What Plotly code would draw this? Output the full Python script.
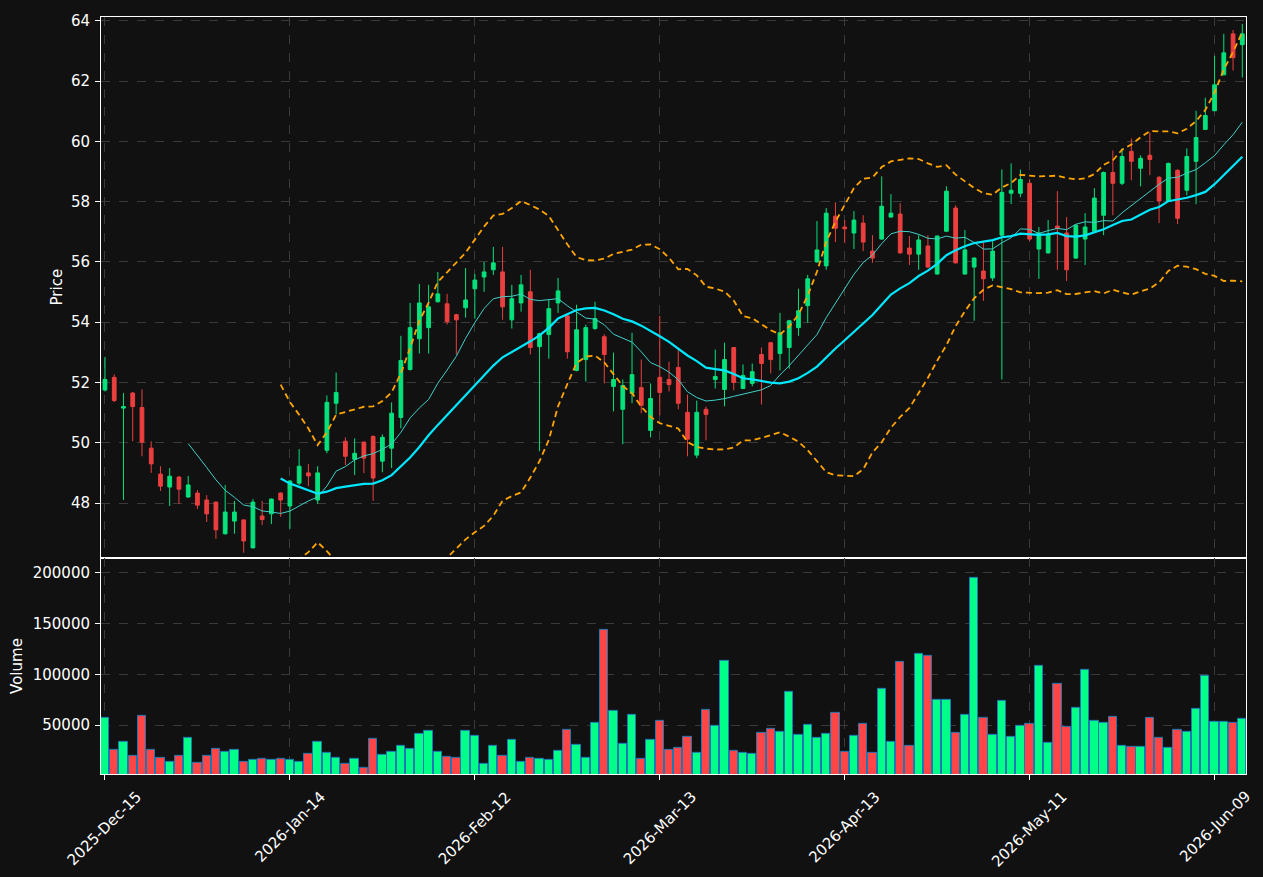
import pandas as pd
import plotly.graph_objects as go

# ---------------- data ----------------
holidays = ["2025-12-25", "2026-01-01", "2026-01-19", "2026-02-16", "2026-04-03", "2026-05-25"]
dates = [d for d in pd.bdate_range("2025-12-15", "2026-06-12") if d.strftime("%Y-%m-%d") not in holidays]

opens = [51.75, 52.17, 51.15, 51.65, 51.17, 49.82, 48.96, 48.53, 48.86, 48.20,
         48.33, 48.10, 48.03, 46.98, 47.40, 47.44, 46.51, 47.57, 47.64, 48.33,
         47.90, 48.66, 49.00, 48.10, 49.75, 51.31, 50.05, 49.45, 50.02, 50.21,
         49.39, 49.82, 50.84, 52.43, 53.45, 53.82, 54.68, 54.61, 54.25, 54.48,
         55.11, 55.50, 55.74, 55.67, 54.08, 54.64, 55.01, 53.19, 53.59, 54.64,
         54.21, 52.40, 52.76, 53.79, 53.52, 51.87, 51.11, 51.64, 51.83, 50.41,
         52.17, 52.10, 52.50, 51.01, 49.59, 51.11, 52.10, 51.77, 53.16, 51.80,
         51.97, 52.93, 53.32, 52.96, 53.16, 53.82, 54.55, 56.00, 55.87, 57.52,
         57.16, 56.96, 57.29, 56.36, 56.76, 57.49, 57.59, 56.46, 56.26, 56.53,
         55.60, 57.02, 57.79, 55.60, 55.83, 55.70, 55.47, 56.89, 58.28, 58.28,
         58.61, 56.43, 56.30, 57.19, 56.96, 56.13, 56.76, 57.02, 57.55, 58.97,
         58.61, 59.67, 59.11, 59.54, 58.81, 58.02, 59.04, 58.38, 59.34, 60.40,
         61.02, 62.21, 63.57, 63.21]
highs = [52.85, 52.27, 51.65, 51.68, 51.77, 50.05, 49.22, 49.16, 48.90, 48.90,
         48.43, 48.26, 48.05, 48.60, 48.07, 47.45, 48.13, 48.07, 48.15, 48.35,
         48.76, 49.79, 49.29, 49.22, 51.57, 52.33, 50.18, 50.15, 50.05, 50.25,
         50.28, 51.34, 53.55, 54.64, 55.27, 55.24, 55.67, 54.94, 54.28, 55.80,
         55.60, 56.00, 56.50, 56.50, 55.24, 55.57, 55.74, 53.65, 54.74, 55.47,
         54.24, 54.58, 53.92, 54.68, 53.60, 52.99, 52.10, 53.65, 52.76, 51.97,
         54.21, 52.69, 53.09, 51.60, 51.40, 51.20, 53.09, 53.32, 53.18, 52.60,
         52.63, 53.16, 53.35, 54.31, 54.08, 55.11, 55.57, 57.36, 57.79, 57.98,
         57.39, 57.69, 57.55, 56.89, 58.84, 58.25, 57.95, 56.86, 56.89, 56.89,
         56.88, 58.51, 57.88, 57.06, 56.15, 56.66, 56.69, 59.07, 59.27, 59.07,
         58.74, 57.16, 57.39, 58.35, 57.49, 57.25, 57.62, 58.45, 59.00, 59.70,
         59.77, 60.10, 59.54, 60.30, 58.85, 59.30, 59.08, 59.77, 61.02, 61.45,
         62.84, 63.57, 63.70, 63.90]
lows = [51.70, 51.35, 48.10, 50.05, 49.55, 49.00, 48.40, 47.90, 47.97, 48.17,
        47.80, 47.37, 46.81, 46.95, 46.98, 46.35, 46.50, 47.27, 47.30, 47.54,
        47.14, 48.60, 48.56, 47.97, 49.65, 50.94, 49.26, 48.93, 48.99, 48.07,
        49.02, 49.16, 50.48, 52.40, 52.96, 52.96, 54.65, 53.92, 52.93, 54.15,
        54.12, 55.01, 55.57, 54.08, 53.79, 54.35, 52.93, 49.72, 52.79, 54.31,
        52.79, 52.37, 52.03, 53.75, 51.97, 51.04, 49.95, 51.31, 50.98, 50.18,
        50.91, 51.70, 51.11, 49.55, 49.49, 50.08, 51.80, 51.21, 51.74, 51.78,
        51.87, 51.27, 52.30, 52.40, 52.46, 53.55, 53.98, 55.98, 55.74, 56.66,
        56.63, 56.43, 56.36, 55.97, 56.74, 57.47, 56.28, 55.90, 55.74, 55.80,
        55.58, 56.99, 55.95, 55.58, 54.05, 54.71, 55.37, 52.10, 57.92, 58.15,
        56.69, 55.44, 56.28, 55.74, 55.37, 56.10, 55.90, 57.00, 56.89, 57.55,
        58.55, 58.71, 58.51, 58.88, 57.29, 58.00, 57.26, 58.21, 57.92, 60.38,
        61.00, 62.20, 62.35, 62.12]
closes = [52.10, 51.40, 51.20, 51.20, 50.02, 49.30, 48.56, 48.89, 48.46, 48.60,
          47.93, 47.64, 47.11, 47.70, 47.70, 46.74, 48.03, 47.45, 48.13, 48.10,
          48.73, 49.22, 48.90, 49.00, 51.34, 51.67, 49.55, 49.65, 49.49, 48.83,
          50.18, 50.98, 52.73, 53.82, 54.64, 54.51, 54.94, 54.02, 54.08, 54.74,
          55.40, 55.67, 55.97, 54.51, 54.78, 55.24, 53.16, 53.62, 54.45, 55.04,
          53.02, 53.75, 53.82, 54.12, 52.93, 52.10, 51.90, 52.26, 51.24, 51.47,
          51.67, 51.93, 51.31, 50.12, 51.01, 50.94, 52.20, 52.76, 52.00, 52.23,
          52.36, 52.63, 52.76, 53.65, 54.05, 54.38, 55.44, 56.40, 57.62, 57.12,
          57.10, 57.39, 56.66, 56.13, 57.85, 57.62, 56.30, 56.26, 56.73, 55.83,
          56.86, 58.35, 55.97, 56.40, 56.13, 55.44, 56.36, 58.31, 58.38, 58.74,
          56.76, 56.96, 56.93, 57.12, 55.74, 57.22, 57.16, 58.12, 58.97, 58.61,
          59.50, 59.34, 59.44, 59.40, 58.02, 59.27, 57.45, 59.50, 60.13, 60.86,
          61.88, 62.94, 62.78, 63.57]
volumes = [56900, 25800, 33300, 19600, 58800, 25500, 17700, 14400, 19600, 37300,
           12800, 19600, 26500, 23500, 25500, 14400, 15700, 16700, 15700, 16700,
           15700, 14400, 21600, 33300, 22600, 17700, 11800, 16700, 7800, 36300,
           20600, 23500, 29400, 26500, 41200, 44100, 23500, 18600, 17700, 44100,
           39200, 11800, 29400, 19600, 35300, 14400, 17700, 16700, 15700, 24500,
           45100, 30400, 17700, 52000, 144100, 63700, 31400, 59800, 16700, 35300,
           53900, 25500, 27500, 38200, 22600, 64700, 49000, 113700, 24500, 22600,
           21600, 42200, 46100, 43100, 82400, 40200, 50000, 37300, 41200, 61800,
           23500, 39200, 51000, 22600, 85300, 33300, 112700, 29400, 120600, 118600,
           74500, 74500, 42200, 59800, 195100, 56900, 40200, 73500, 38200, 49000,
           51000, 108800, 32400, 90200, 48000, 66700, 104900, 53900, 52000, 57800,
           29400, 28400, 28400, 56900, 37300, 27500, 45100, 43100, 65700, 99000,
           52900, 52900, 52000, 55900]

tick_idx = list(range(0, len(dates), 20))
tick_labels = [dates[i].strftime("%Y-%b-%d") for i in tick_idx]

# ---------------- indicators ----------------
idx = list(range(len(closes)))
cs = pd.Series(closes)
ma10 = cs.rolling(10).mean()
ma20 = cs.rolling(20).mean()
sd20 = cs.rolling(20).std()
bb_up = ma20 + 2 * sd20
bb_lo = ma20 - 2 * sd20

# ---------------- styling ----------------
BG = "#111111"
UP_C = "#05e27c"
DN_C = "#eb3f3f"
UP_V = "#00ff88"
DN_V = "#ff4545"
GRID = "#3a3a3a"
FONT = "DejaVu Sans"

vol_colors = [UP_V if c >= o else DN_V for o, c in zip(opens, closes)]

fig = go.Figure()
fig.add_trace(go.Candlestick(
    x=idx, open=opens, high=highs, low=lows, close=closes,
    increasing=dict(line=dict(color=UP_C, width=1), fillcolor=UP_C),
    decreasing=dict(line=dict(color=DN_C, width=1), fillcolor=DN_C),
    whiskerwidth=0, xaxis="x", yaxis="y", showlegend=False))
fig.add_trace(go.Scatter(x=idx, y=bb_up, mode="lines", xaxis="x", yaxis="y",
                         line=dict(color="#ffa500", width=1.8, dash="6px,4px"), showlegend=False))
fig.add_trace(go.Scatter(x=idx, y=bb_lo, mode="lines", xaxis="x", yaxis="y",
                         line=dict(color="#ffa500", width=1.8, dash="6px,4px"), showlegend=False))
fig.add_trace(go.Scatter(x=idx, y=ma10, mode="lines", xaxis="x", yaxis="y",
                         line=dict(color="#40d0c8", width=1), showlegend=False))
fig.add_trace(go.Scatter(x=idx, y=ma20, mode="lines", xaxis="x", yaxis="y",
                         line=dict(color="#00e8ff", width=2.2), showlegend=False))
fig.add_trace(go.Bar(x=idx, y=volumes, xaxis="x2", yaxis="y2", width=0.9,
                     marker=dict(color=vol_colors, line=dict(color="#1f77b4", width=1)),
                     showlegend=False))

split = (774 - 557) / 760.0
xr = [-0.43, 123.4]
axis_common = dict(showline=True, mirror=True, linecolor="white", linewidth=1,
                   showgrid=True, gridcolor=GRID, griddash="dash", gridwidth=1,
                   zeroline=False, tickfont=dict(color="white", size=15, family=FONT))

fig.update_layout(
    width=1263, height=877,
    margin=dict(l=101, r=17, t=14, b=103),
    paper_bgcolor=BG, plot_bgcolor=BG,
    font=dict(family=FONT, color="white", size=15),
    boxgap=0.42,
    bargap=0,
    xaxis=dict(domain=[0, 1], anchor="y", range=xr, tickvals=tick_idx, showticklabels=False,
               ticks="", rangeslider=dict(visible=False), **axis_common),
    yaxis=dict(domain=[split, 1], anchor="x", range=[46.18, 64.13],
               tickvals=[48, 50, 52, 54, 56, 58, 60, 62, 64], ticklabelstandoff=2,
               ticks="outside", ticklen=5, tickcolor="white", **axis_common),
    xaxis2=dict(domain=[0, 1], anchor="y2", range=xr, tickvals=tick_idx, showticklabels=False,
                ticks="outside", ticklen=5, tickcolor="white", matches="x", **axis_common),
    yaxis2=dict(domain=[0, split], anchor="x2", range=[1960, 214700],
                tickvals=[50000, 100000, 150000, 200000], tickformat="d", ticklabelstandoff=2,
                ticks="outside", ticklen=5, tickcolor="white", **axis_common),
)

annotations = [
    dict(text="Price", x=0, xref="paper", y=(split + 1) / 2, yref="paper", xshift=-44,
         textangle=-90, showarrow=False, xanchor="center", yanchor="middle",
         font=dict(size=15, color="white", family=FONT)),
    dict(text="Volume", x=0, xref="paper", y=split / 2, yref="paper", xshift=-84,
         textangle=-90, showarrow=False, xanchor="center", yanchor="middle",
         font=dict(size=15, color="white", family=FONT)),
]
for i, lab in zip(tick_idx, tick_labels):
    annotations.append(dict(text=lab, x=i, xref="x2", y=0, yref="paper", yshift=-11,
                            textangle=-45, showarrow=False, xanchor="center", yanchor="top",
                            font=dict(size=15, color="white", family=FONT)))
fig.update_layout(annotations=annotations)

fig.write_html("out.html")
